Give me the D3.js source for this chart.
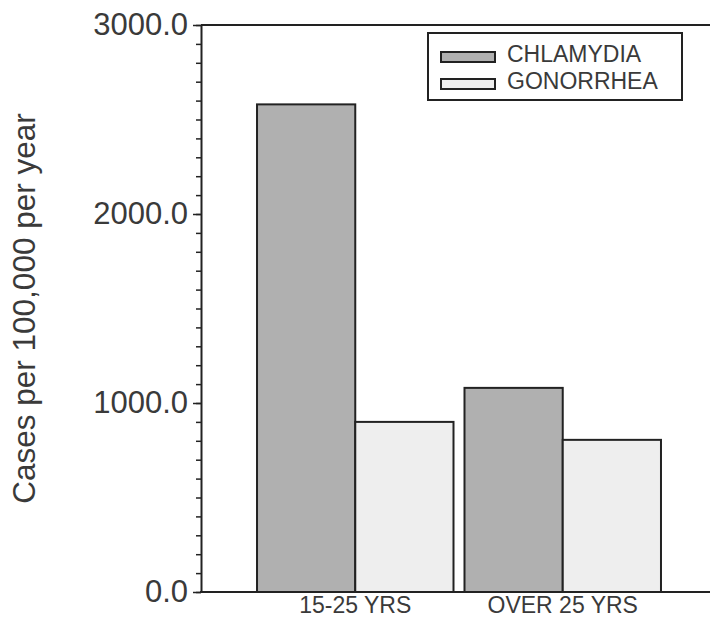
<!DOCTYPE html>
<HTML>
<HEAD>
<TITLE>Chlamydia and Gonorrhea</TITLE>

<STYLE>
body {
    margin: 0;
    background: white;
}
svg {
    width: 710px;
    height: 618px;
    display: block;
}
text {
    font-family: "Liberation Sans", Arial, sans-serif;
    fill: #3a3a3a;
}
</STYLE>

<SCRIPT type="text/javascript" src="https://d3js.org/d3.v7.min.js"></SCRIPT>

</HEAD>

<BODY>

<SVG id="chart"></SVG>

<SCRIPT type="text/javascript">

// values
const groups = ["15-25 YRS", "OVER 25 YRS"];
const series = ["CHLAMYDIA", "GONORRHEA"];
const chlamydia = [2580, 1080];
const gonorrhea = [900, 805];
const yTicks = [0, 1000, 2000, 3000];
const yTitle = "Cases per 100,000 per year";

const fills = ["#b0b0b0", "#eeeeee"];
const dark = "#222";

const chart = d3.select("#chart");

const LEFT = 201, RIGHT = 717, TOP = 25, BOTTOM = 592;

const y = d3.scaleLinear().domain([0, 3000]).range([BOTTOM, TOP]);

const x0 = d3.scaleBand()
             .domain(groups)
             .range([LEFT, RIGHT])
             .paddingInner(0.053)
             .paddingOuter(0.27);

const x1 = d3.scaleBand()
             .domain(series)
             .range([0, x0.bandwidth()]);

const rows = groups.map((g, i) => ({group: g, values: [chlamydia[i], gonorrhea[i]]}));

// bars
const grp = chart.selectAll("g.grp")
                 .data(rows)
                 .enter()
                 .append("g")
                 .attr("class", "grp")
                 .attr("transform", (d) => `translate(${x0(d.group)},0)`);

grp.selectAll("rect")
   .data((d) => d.values.map((v, j) => ({key: series[j], value: v, idx: j})))
   .enter()
   .append("rect")
   .attr("x", (d) => x1(d.key))
   .attr("width", x1.bandwidth())
   .attr("y", (d) => y(d.value))
   .attr("height", (d) => y(0) - y(d.value))
   .style("fill", (d) => fills[d.idx])
   .style("stroke", dark)
   .style("stroke-width", 2);

// frame lines: top and bottom run off to the right
chart.append("line")
     .attr("x1", LEFT).attr("x2", 710)
     .attr("y1", TOP).attr("y2", TOP)
     .style("stroke", dark).style("stroke-width", 2);

chart.append("line")
     .attr("x1", LEFT - 1).attr("x2", 710)
     .attr("y1", BOTTOM).attr("y2", BOTTOM)
     .style("stroke", dark).style("stroke-width", 2);

// y axis with minor ticks every 100
const minor = chart.append("g")
                   .attr("transform", `translate(${LEFT},0)`)
                   .call(d3.axisLeft(y).tickValues(d3.range(0, 3001, 100)).tickSize(5).tickFormat(""));
minor.select(".domain").remove();
minor.selectAll("line").style("stroke", dark).style("stroke-width", 1.5);

const yAxis = chart.append("g")
                   .attr("transform", `translate(${LEFT},0)`)
                   .call(d3.axisLeft(y).tickValues(yTicks).tickSize(8).tickSizeOuter(0).tickPadding(5).tickFormat(d3.format(".1f")));
yAxis.select(".domain").style("stroke", dark).style("stroke-width", 2);
yAxis.selectAll("line").style("stroke", dark).style("stroke-width", 1.5);
yAxis.selectAll("text")
     .style("font-size", "31px")
     .style("font-family", "'Liberation Sans', Arial, sans-serif")
     .attr("fill", "#3a3a3a");

// x labels
chart.selectAll("text.xlab")
     .data(groups)
     .enter()
     .append("text")
     .attr("class", "xlab")
     .attr("x", (d) => x0(d) + x0.bandwidth() / 2)
     .attr("y", 613)
     .style("text-anchor", "middle")
     .style("font-size", "23px")
     .text((d) => d);

// y title
chart.append("text")
     .attr("transform", `translate(35,${(TOP + BOTTOM) / 2}) rotate(-90)`)
     .style("text-anchor", "middle")
     .style("font-size", "31.5px")
     .text(yTitle);

// legend
const legend = chart.append("g").attr("transform", "translate(428,33)");

legend.append("rect")
      .attr("width", 254).attr("height", 67)
      .style("fill", "white").style("stroke", dark).style("stroke-width", 2);

const item = legend.selectAll("g.item")
                   .data(series)
                   .enter()
                   .append("g")
                   .attr("class", "item")
                   .attr("transform", (d, i) => `translate(0,${19 + i * 27})`);

item.append("rect")
    .attr("x", 13).attr("width", 54).attr("height", 10)
    .style("fill", (d, i) => fills[i])
    .style("stroke", dark).style("stroke-width", 2);

item.append("text")
    .attr("x", 79).attr("y", 10)
    .style("font-size", "23px")
    .text((d) => d);

</SCRIPT>

</BODY>
</HTML>
